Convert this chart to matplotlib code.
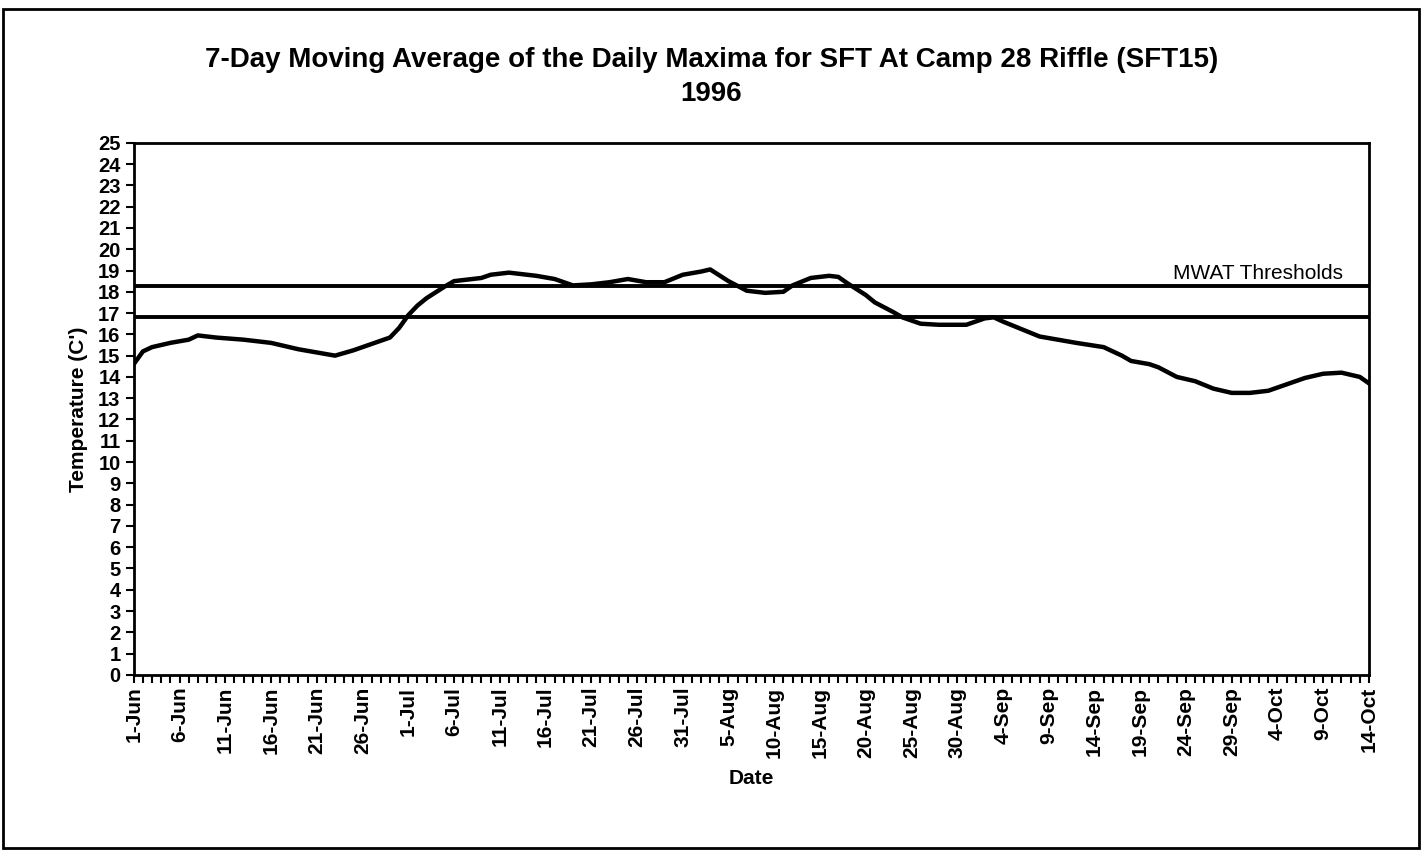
import pandas as pd
import matplotlib.pyplot as plt
from matplotlib.patches import Rectangle

# ------------------------------------------------------------
# data (7-day moving average of daily maxima)
# ------------------------------------------------------------
dates = ['06-01', '06-02', '06-03', '06-05', '06-07', '06-08', '06-10', '06-13',
         '06-16', '06-19', '06-21', '06-23', '06-25', '06-27', '06-29', '06-30',
         '07-01', '07-02', '07-03', '07-05', '07-06', '07-08', '07-09', '07-10',
         '07-12', '07-15', '07-17', '07-19', '07-21', '07-23', '07-25', '07-27',
         '07-29', '07-31', '08-02', '08-03', '08-05', '08-07', '08-09', '08-11',
         '08-12', '08-14', '08-16', '08-17', '08-18', '08-20', '08-21', '08-23',
         '08-24', '08-26', '08-28', '08-31', '09-02', '09-03', '09-04', '09-06',
         '09-08', '09-10', '09-12', '09-15', '09-17', '09-18', '09-20', '09-21',
         '09-23', '09-25', '09-27', '09-29', '10-01', '10-03', '10-05', '10-07',
         '10-09', '10-11', '10-13', '10-14']
temps = [14.6, 15.2, 15.4, 15.6, 15.75, 15.95, 15.85, 15.75,
         15.6, 15.3, 15.15, 15.0, 15.25, 15.55, 15.85, 16.3,
         16.9, 17.35, 17.7, 18.25, 18.5, 18.6, 18.65, 18.8,
         18.9, 18.75, 18.6, 18.3, 18.35, 18.45, 18.6, 18.45,
         18.45, 18.8, 18.95, 19.05, 18.5, 18.05, 17.95, 18.0,
         18.3, 18.65, 18.75, 18.7, 18.4, 17.85, 17.5, 17.05,
         16.8, 16.5, 16.45, 16.45, 16.75, 16.8, 16.6, 16.25,
         15.9, 15.75, 15.6, 15.4, 15.0, 14.75, 14.6, 14.45,
         14.0, 13.8, 13.45, 13.25, 13.25, 13.35, 13.65, 13.95,
         14.15, 14.2, 14.0, 13.7]

mwat_thresholds = [18.25, 16.8]

df = pd.DataFrame({'Date': pd.to_datetime(['1996-' + d for d in dates]),
                   'Temp': temps})

start = pd.Timestamp('1996-06-01')
end = pd.Timestamp('1996-10-14')
df['Day'] = (df['Date'] - start).dt.days
n_days = (end - start).days

all_days = pd.date_range(start, end, freq='D')
major_days = list(range(0, n_days + 1, 5))
major_labels = [f"{all_days[i].day}-{all_days[i].strftime('%b')}" for i in major_days]

# ------------------------------------------------------------
# plot
# ------------------------------------------------------------
plt.rcParams['font.family'] = ['Liberation Sans', 'DejaVu Sans']

fig = plt.figure(figsize=(14.23, 8.5), dpi=100)
ax = fig.add_axes([0.094, 0.206, 0.868, 0.626])

ax.plot(df['Day'], df['Temp'], color='black', linewidth=3.2)
for t in mwat_thresholds:
    ax.axhline(t, color='black', linewidth=2.8)

ax.set_xlim(0, n_days)
ax.set_ylim(0, 25)

ax.set_yticks(range(0, 26))
ax.set_yticklabels([str(v) for v in range(0, 26)], fontsize=14.5, fontweight='bold')
ax.set_xticks(major_days)
ax.set_xticklabels(major_labels, rotation=90, fontsize=15, fontweight='bold')
ax.set_xticks(range(0, n_days + 1), minor=True)
ax.tick_params(axis='both', which='both', direction='out', length=5.5, width=1.5)
ax.tick_params(axis='y', pad=4)
ax.tick_params(axis='x', pad=3)

for s in ax.spines.values():
    s.set_linewidth(2)

ax.set_ylabel("Temperature (C')", fontsize=15, fontweight='bold', labelpad=7)
ax.set_xlabel('Date', fontsize=15, fontweight='bold', labelpad=8)

ax.text(132.2, 18.62, 'MWAT Thresholds', ha='right', va='baseline', fontsize=15)

fig.text(0.5, 0.929, '7-Day Moving Average of the Daily Maxima for SFT At Camp 28 Riffle (SFT15)',
         ha='center', va='center', fontsize=20, fontweight='bold')
fig.text(0.5, 0.889, '1996', ha='center', va='center', fontsize=20, fontweight='bold')

# outer page frame
fig.patches.append(Rectangle((0.002, 0.002), 0.995, 0.988, transform=fig.transFigure,
                             fill=False, edgecolor='black', linewidth=2))

fig.savefig('out.png', dpi=100)
